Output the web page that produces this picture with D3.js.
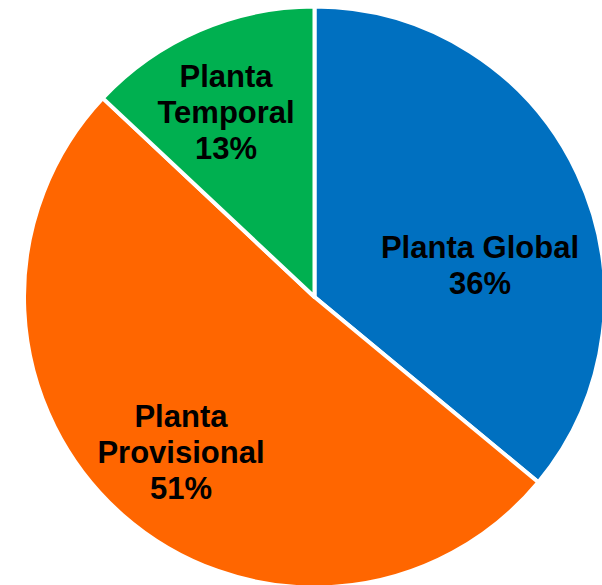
<!DOCTYPE html>
<html lang="es">
<head>
    <meta charset="UTF-8">
    <title>Planta</title>
    <script src="https://d3js.org/d3.v7.min.js"></script>
    <style>
        body { margin: 0; background: #fff; }
        svg text {
            font-family: "Liberation Sans", Arial, sans-serif;
            font-weight: bold;
            font-size: 31px;
            fill: #000;
        }
    </style>
</head>
<body>
    <svg id="chart" width="602" height="585"></svg>
    <script>
        // Data
        const categories = ["Planta Global", "Planta Provisional", "Planta Temporal"];
        const values = [36, 51, 13];
        const colors = ["#0070C0", "#FF6600", "#00B050"];
        // how each label is broken into lines
        const labelLines = [["Planta Global"], ["Planta", "Provisional"], ["Planta", "Temporal"]];
        // small manual nudges of label positions (px), like the original
        const labelNudge = [[-20, 55], [2, 1], [-7, 3]];

        const cx = 314.5, cy = 297, radius = 290.5;
        const labelR = 205, lineH = 36;

        const svg = d3.select("#chart");
        const g = svg.append("g").attr("transform", `translate(${cx},${cy})`);

        const pie = d3.pie().sort(null).value(d => d.value);
        const data = pie(categories.map((c, i) => ({ name: c, value: values[i], i })));

        const arc = d3.arc().innerRadius(0).outerRadius(radius);
        const labelArc = d3.arc().innerRadius(labelR).outerRadius(labelR);

        g.selectAll("path")
            .data(data)
            .enter().append("path")
            .attr("d", arc)
            .attr("fill", d => colors[d.data.i])
            .attr("stroke", "#fff")
            .attr("stroke-width", 4)
            .attr("stroke-linejoin", "round");

        data.forEach(d => {
            const [x, y] = labelArc.centroid(d);
            const nx = x + labelNudge[d.data.i][0];
            const ny = y + labelNudge[d.data.i][1];
            const lines = labelLines[d.data.i].concat([d.data.value + "%"]);
            const first = ny - (lines.length - 1) * lineH / 2 + 11;
            const t = g.append("text").attr("text-anchor", "middle");
            lines.forEach((l, k) => {
                t.append("tspan").attr("x", nx).attr("y", first + k * lineH).text(l);
            });
        });
    </script>
</body>
</html>
